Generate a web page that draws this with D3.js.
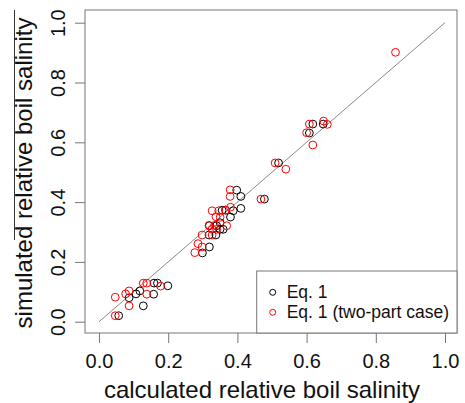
<!DOCTYPE html>
<html>
<head>
<meta charset="utf-8">
<script src="https://d3js.org/d3.v7.min.js"></script>
<style>
  body { margin: 0; background: #fff; }
  text { font-family: "Liberation Sans", Arial, sans-serif; fill: #111; }
</style>
</head>
<body>
<div id="chart"></div>
<script>
// Eq. 1 (black circles)
const eq1Calc = [0.618, 0.648, 0.608, 0.519, 0.478, 0.398, 0.410, 0.410, 0.388, 0.380,
                 0.366, 0.356, 0.350, 0.340, 0.319, 0.359, 0.350, 0.318, 0.338, 0.319,
                 0.299, 0.159, 0.169, 0.199, 0.118, 0.107, 0.087, 0.158, 0.128, 0.057];
const eq1Sim  = [0.661, 0.661, 0.631, 0.531, 0.410, 0.440, 0.419, 0.379, 0.371, 0.350,
                 0.373, 0.373, 0.331, 0.321, 0.321, 0.309, 0.309, 0.290, 0.290, 0.250,
                 0.230, 0.129, 0.129, 0.120, 0.103, 0.093, 0.080, 0.092, 0.053, 0.020];

// Eq. 1 (two-part case) (red circles)
const twoPartCalc = [0.857, 0.608, 0.649, 0.660, 0.600, 0.618, 0.509, 0.540, 0.468, 0.379,
                     0.379, 0.380, 0.366, 0.327, 0.346, 0.338, 0.350, 0.318, 0.334, 0.369,
                     0.327, 0.340, 0.327, 0.298, 0.286, 0.298, 0.277, 0.128, 0.138, 0.178,
                     0.087, 0.077, 0.138, 0.047, 0.087, 0.047];
const twoPartSim  = [0.901, 0.661, 0.671, 0.660, 0.632, 0.591, 0.531, 0.510, 0.410, 0.441,
                     0.419, 0.383, 0.373, 0.371, 0.371, 0.351, 0.349, 0.322, 0.322, 0.321,
                     0.309, 0.309, 0.290, 0.290, 0.261, 0.250, 0.231, 0.129, 0.129, 0.119,
                     0.103, 0.093, 0.092, 0.082, 0.053, 0.020];

const tickValues = [0, 0.2, 0.4, 0.6, 0.8, 1.0];
const legendLabels = ["Eq. 1", "Eq. 1 (two-part case)"];
const seriesColors = ["#000000", "#ff0000"];

const width = 465, height = 403;
const box = {left: 85, right: 457, top: 10, bottom: 333};

const svg = d3.select('#chart').append('svg')
    .attr('width', width)
    .attr('height', height);

const x = d3.scaleLinear().domain([0, 1]).range([99, 445]);
const y = d3.scaleLinear().domain([0, 1]).range([321.7, 22.7]);

// 1:1 line
svg.append('line')
    .attr('x1', x(0)).attr('y1', y(0))
    .attr('x2', x(1)).attr('y2', y(1))
    .attr('stroke', '#8a8a8a')
    .attr('stroke-width', 1);

// points
const eq1 = eq1Calc.map((d, i) => ({c: d, s: eq1Sim[i]}));
const twoPart = twoPartCalc.map((d, i) => ({c: d, s: twoPartSim[i]}));

[eq1, twoPart].forEach((data, k) => {
  svg.append('g').selectAll('circle')
    .data(data)
    .join('circle')
      .attr('cx', d => x(d.c))
      .attr('cy', d => y(d.s))
      .attr('r', 3.9)
      .attr('fill', 'none')
      .attr('stroke', seriesColors[k])
      .attr('stroke-width', 1);
});

// x axis
const xAxis = svg.append('g')
    .attr('transform', `translate(0,${box.bottom})`)
    .call(d3.axisBottom(x).tickValues(tickValues).tickFormat(d3.format('.1f'))
          .tickSize(10).tickPadding(11));
xAxis.select('.domain').remove();
xAxis.selectAll('line').attr('stroke', '#777');
xAxis.selectAll('text').style('font-size', '20px').attr('fill', '#111');

// y axis with rotated labels
const yAxis = svg.append('g')
    .attr('transform', `translate(${box.left},0)`)
    .call(d3.axisLeft(y).tickValues(tickValues).tickFormat(d3.format('.1f')).tickSize(10));
yAxis.select('.domain').remove();
yAxis.selectAll('line').attr('stroke', '#777');
yAxis.selectAll('text')
    .attr('x', null).attr('dy', null)
    .attr('text-anchor', 'middle')
    .attr('transform', 'translate(-20,0) rotate(-90)')
    .style('font-size', '20px')
    .attr('fill', '#111');

// plot box
svg.append('rect')
    .attr('x', box.left).attr('y', box.top)
    .attr('width', box.right - box.left)
    .attr('height', box.bottom - box.top)
    .attr('fill', 'none')
    .attr('stroke', '#777')
    .attr('stroke-width', 1);

// axis titles
svg.append('text')
    .attr('x', 262).attr('y', 398)
    .attr('text-anchor', 'middle')
    .style('font-size', '24px')
    .text('calculated relative boil salinity');

svg.append('text')
    .attr('transform', 'translate(32,173) rotate(-90)')
    .attr('text-anchor', 'middle')
    .style('font-size', '24px')
    .text('simulated relative boil salinity');

// stray line over the y title
svg.append('line')
    .attr('x1', 14.5).attr('y1', 10)
    .attr('x2', 14.5).attr('y2', 240)
    .attr('stroke', '#333')
    .attr('stroke-width', 1);

// legend
const legend = svg.append('g');
legend.append('rect')
    .attr('x', 256.7).attr('y', 271)
    .attr('width', box.right - 256.7)
    .attr('height', box.bottom - 271)
    .attr('fill', '#fff')
    .attr('stroke', '#777');

legendLabels.forEach((label, i) => {
  const ly = 292.3 + i * 20;
  legend.append('circle')
      .attr('cx', 272.7).attr('cy', ly)
      .attr('r', 3)
      .attr('fill', 'none')
      .attr('stroke', seriesColors[i]);
  legend.append('text')
      .attr('x', 286.7).attr('y', ly)
      .attr('dy', '0.35em')
      .style('font-size', '17.5px')
      .text(label);
});
</script>
</body>
</html>
